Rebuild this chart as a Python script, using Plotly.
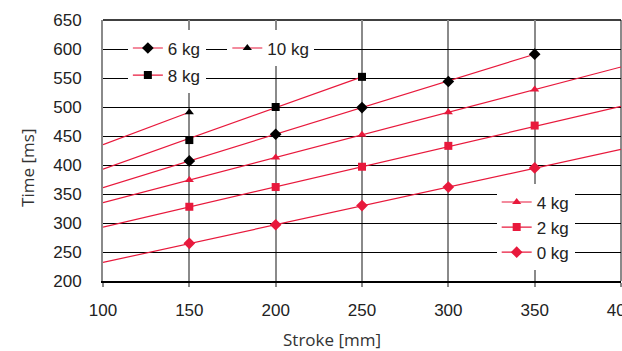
import plotly.graph_objects as go

# stroke positions [mm] and measured times [ms] per load
strokes = [150, 200, 250, 300, 350]
t_0kg = [265, 297, 330, 362, 395]
t_2kg = [328, 362, 397, 433, 468]
t_4kg = [374, 413, 452, 491, 530]
t_6kg = [407, 453, 499, 544, 591]
t_8kg = [443, 500, 552]
t_10kg = [491]

# trend lines: (x start, x end), (y start, y end)
trend_0kg = ([100, 400], [232, 427])
trend_2kg = ([100, 400], [293, 501])
trend_4kg = ([100, 400], [335, 569])
trend_6kg = ([100, 350], [361, 591])
trend_8kg = ([100, 250], [393, 552])
trend_10kg = ([100, 150], [435, 491])

RED = '#e8193c'
BLACK = '#000000'

series = [
    # name, y values, trend, marker symbol, marker colour, marker size, legend
    ('6 kg', t_6kg, trend_6kg, 'diamond', BLACK, 9, 'legend'),
    ('8 kg', t_8kg, trend_8kg, 'square', BLACK, 8, 'legend'),
    ('10 kg', t_10kg, trend_10kg, 'triangle-up', BLACK, 8, 'legend3'),
    ('4 kg', t_4kg, trend_4kg, 'triangle-up', RED, 8, 'legend2'),
    ('2 kg', t_2kg, trend_2kg, 'square', RED, 8, 'legend2'),
    ('0 kg', t_0kg, trend_0kg, 'diamond', RED, 9, 'legend2'),
]

fig = go.Figure()
for name, ys, trend, sym, col, size, leg in series:
    fig.add_trace(go.Scatter(x=trend[0], y=trend[1], mode='lines',
                             line=dict(color=RED, width=1.2),
                             showlegend=False, hoverinfo='skip'))
    fig.add_trace(go.Scatter(name=name, x=strokes[:len(ys)], y=ys, mode='markers',
                             marker=dict(symbol=sym, color=col, size=size, line=dict(width=0)),
                             showlegend=False))
    # legend proxy with visible line
    fig.add_trace(go.Scatter(name=name, x=[None], y=[None], mode='lines+markers',
                             line=dict(color=RED, width=1.2),
                             marker=dict(symbol=sym, color=col, size=size, line=dict(width=0)),
                             legend=leg, legendgroup=name))

legend_font = dict(family='Liberation Sans, Arial', size=17, color='#222')
title_font = dict(family='Open Sans', size=17, color='#333')

fig.update_layout(
    width=622, height=351,
    margin=dict(l=103, r=1, t=20, b=70),
    plot_bgcolor='white', paper_bgcolor='white',
    legend=dict(x=0.048, y=0.96, xanchor='left', yanchor='top', bgcolor='white',
                font=legend_font, tracegroupgap=2, itemwidth=30),
    legend3=dict(x=0.24, y=0.96, xanchor='left', yanchor='top', bgcolor='white',
                 font=legend_font, itemwidth=30),
    legend2=dict(x=0.76, y=0.37, xanchor='left', yanchor='top', bgcolor='white',
                 font=legend_font, tracegroupgap=0, itemwidth=30),
    annotations=[
        dict(text='Stroke [mm]', xref='paper', yref='paper', x=0.442, y=-0.225,
             xanchor='center', yanchor='middle', showarrow=False, font=title_font),
        dict(text='Time [ms]', xref='paper', yref='paper', x=-0.145, y=0.433,
             xanchor='center', yanchor='middle', showarrow=False, textangle=-90,
             font=title_font),
    ],
)

fig.update_xaxes(
    range=[100, 400], tickvals=[100, 150, 200, 250, 300, 350, 400],
    showgrid=True, gridcolor='#8a8a8a', gridwidth=2,
    showline=True, linecolor='#000', linewidth=1.5, mirror=False,
    ticks='outside', ticklen=4, tickcolor='#8a8a8a', tickwidth=2,
    tickfont=dict(family='Liberation Sans, Arial', size=17, color='#222'),
    ticklabelstandoff=9, ticklabeloverflow='allow', zeroline=False, automargin=False,
)
fig.update_yaxes(
    range=[200, 650], tickvals=list(range(200, 651, 50)),
    showgrid=True, gridcolor='#000', gridwidth=1,
    showline=True, linecolor='#8a8a8a', linewidth=2,
    ticks='', tickfont=dict(family='Liberation Sans, Arial', size=17, color='#222'),
    ticklabelstandoff=16, zeroline=False, automargin=False,
)
# right border and top border
fig.add_shape(type='line', xref='paper', yref='paper', x0=1, x1=1, y0=0, y1=1,
              line=dict(color='#8a8a8a', width=2), layer='below')
fig.add_shape(type='line', xref='paper', yref='paper', x0=0, x1=1, y0=1, y1=1,
              line=dict(color='#000', width=1.5), layer='below')

fig.write_html("out.html", config={'displayModeBar': False},
               post_script="document.body.style.margin='0';document.body.style.overflow='hidden';")
